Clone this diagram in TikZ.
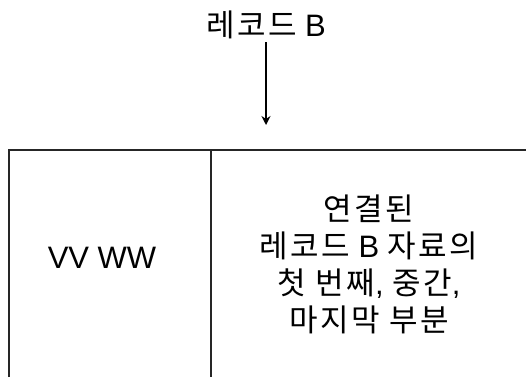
\documentclass[tikz,border=0pt]{standalone}
\usepackage{fontspec}
\setmainfont{Liberation Sans}
\newfontfamily\kr[LetterSpace=8]{Noto Sans CJK KR}
\usetikzlibrary{arrows.meta}
\begin{document}
\begin{tikzpicture}[x=1pt,y=-1pt,
  edge/.style={line width=1.6pt,draw=black!85},
  lbl/.style={font=\fontsize{31}{37}\selectfont,inner sep=0pt,align=center}]
\useasboundingbox (0,0) rectangle (526,377);
\node[lbl] (title) at (266,25) {{\kr 레코드} B};
\coordinate (tip) at (266,125);
\draw[line width=1.6pt,-{Stealth[length=9pt,width=9pt]}] (title.south) ++(0,3) coordinate (start) -- (tip);
\coordinate (tl) at (9,150);
\coordinate (tr) at (526,150);
\coordinate (bl) at (9,377);
\coordinate (dt) at (211,150);
\coordinate (db) at (211,377);
\draw[edge] (bl) -- (tl) -- (tr);
\draw[edge] (dt) -- (db);
\node[lbl] (left) at (102,258) {VV WW};
\node[lbl] (right) at (369,264) {{\kr 연결된}\\{\kr 레코드} B {\kr 자료의}\\{\kr 첫 번째}, {\kr 중간},\\{\kr 마지막 부분}};
\end{tikzpicture}
\end{document}
